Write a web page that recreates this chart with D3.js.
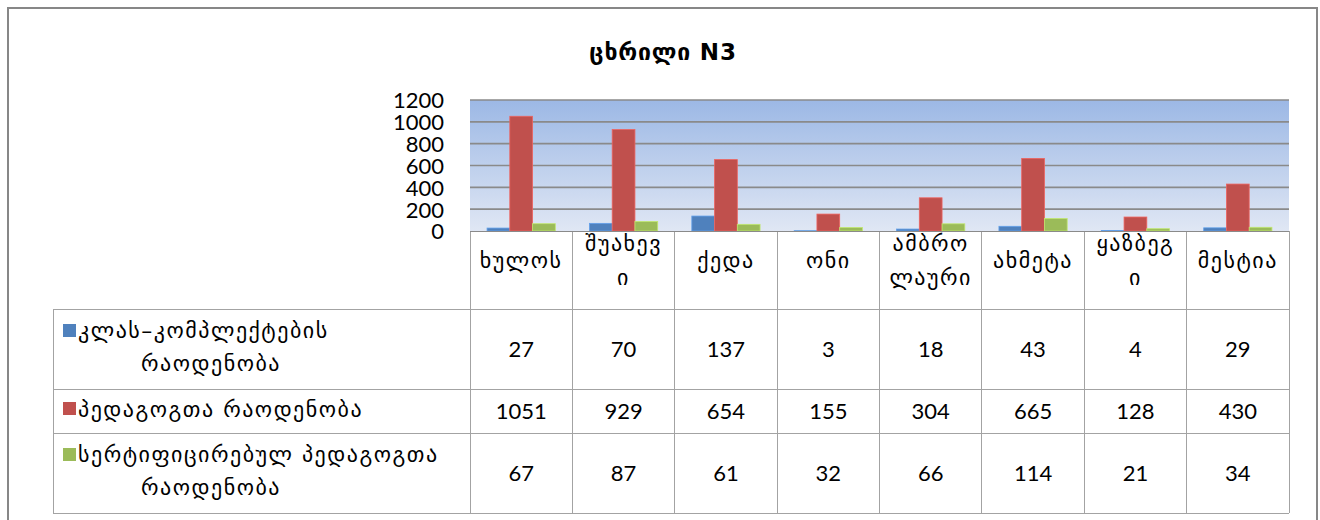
<!DOCTYPE html>
<html>
<head>
<meta charset="utf-8">
<script src="https://cdn.jsdelivr.net/npm/d3@7/dist/d3.min.js"></script>
<style>
  body { margin: 0; background: #fff; }
  .geo { font-family: "DejaVu Sans", sans-serif; fill: #000; letter-spacing: 1.5px; }
  .num { font-family: Lato, "Open Sans", sans-serif; fill: #000; }
</style>
</head>
<body>
<svg id="chart" width="1320" height="520"></svg>
<script>
'use strict';

const title = 'ცხრილი N3';
const categories = ['ხულოს', 'შუახევი', 'ქედა', 'ონი', 'ამბროლაური', 'ახმეტა', 'ყაზბეგი', 'მესტია'];
// how each name breaks inside its cell
const categoryLines = [['ხულოს'], ['შუახევ', 'ი'], ['ქედა'], ['ონი'], ['ამბრო', 'ლაური'], ['ახმეტა'], ['ყაზბეგ', 'ი'], ['მესტია']];
const seriesNames = ['კლას–კომპლექტების რაოდენობა', 'პედაგოგთა რაოდენობა', 'სერტიფიცირებულ პედაგოგთა რაოდენობა'];
const seriesLines = [['კლას–კომპლექტების', 'რაოდენობა'], ['პედაგოგთა რაოდენობა'], ['სერტიფიცირებულ პედაგოგთა', 'რაოდენობა']];
const classes = [27, 70, 137, 3, 18, 43, 4, 29];
const teachers = [1051, 929, 654, 155, 304, 665, 128, 430];
const certified = [67, 87, 61, 32, 66, 114, 21, 34];
const yTicks = [0, 200, 400, 600, 800, 1000, 1200];
const colors = ['#4f81bd', '#c0504d', '#9bbb59'];

const series = [classes, teachers, certified];

const svg = d3.select('#chart');

// outer frame
svg.append('rect').attr('x', 8).attr('y', 8).attr('width', 1309).attr('height', 540)
  .attr('fill', 'none').attr('stroke', '#878787').attr('stroke-width', 2);

svg.append('text').attr('class', 'geo').attr('x', 663).attr('y', 60)
  .attr('text-anchor', 'middle').style('font-size', '23px').style('font-weight', 'bold')
  .style('letter-spacing', '0.8px')
  .text(title);

const plotLeft = 470, plotRight = 1289, plotTop = 100, plotBottom = 231;
const headerBottom = 309;
const rowBottoms = [389, 433, 513];
const tableLeft = 53;

const x = d3.scaleBand().domain(categories).range([plotLeft, plotRight]);
const xs = d3.scaleBand().domain(d3.range(series.length)).range([0, x.bandwidth()]).paddingOuter(0.75);
const y = d3.scaleLinear().domain([0, 1200]).range([plotBottom, plotTop]);

// plot background
const defs = svg.append('defs');
const grad = defs.append('linearGradient').attr('id', 'plotbg').attr('x1', 0).attr('y1', 0).attr('x2', 0).attr('y2', 1);
grad.append('stop').attr('offset', 0).attr('stop-color', '#9cb8e5');
grad.append('stop').attr('offset', 1).attr('stop-color', '#e0e7f4');
svg.append('rect').attr('x', plotLeft).attr('y', plotTop).attr('width', plotRight - plotLeft).attr('height', plotBottom - plotTop)
  .attr('fill', 'url(#plotbg)');

// grid
svg.append('g').selectAll('line').data(yTicks.filter(d => d > 0)).join('line')
  .attr('x1', plotLeft).attr('x2', plotRight)
  .attr('y1', d => y(d)).attr('y2', d => y(d))
  .attr('stroke', '#8a8a8a').attr('stroke-width', 1.6);

// y axis labels
const yAxis = d3.axisLeft(y).tickValues(yTicks).tickFormat(d3.format('d')).tickSize(0).tickPadding(26);
const yg = svg.append('g').attr('transform', `translate(${plotLeft},0)`).call(yAxis);
yg.select('.domain').remove();
yg.selectAll('text').attr('class', 'num').style('font-size', '22px').attr('dy', '0.36em');

// bars
svg.append('g').selectAll('g').data(series).join('g')
  .attr('fill', (d, i) => colors[i])
  .attr('stroke', (d, i) => d3.color(colors[i]).brighter(0.6))
  .attr('stroke-width', 0.8)
  .selectAll('rect').data((d, i) => d.map((v, j) => ({ v, j, i }))).join('rect')
  .attr('x', d => x(categories[d.j]) + xs(d.i))
  .attr('width', xs.bandwidth())
  .attr('y', d => y(d.v))
  .attr('height', d => y(0) - y(d.v));

// table
const line = '#a3a3a3';
const tbl = svg.append('g').attr('stroke', line).attr('stroke-width', 1).attr('shape-rendering', 'crispEdges');
// category column boundaries
tbl.selectAll('line.v').data(categories.map(c => x(c)).concat([plotRight])).join('line')
  .attr('class', 'v')
  .attr('x1', d => d).attr('x2', d => d)
  .attr('y1', plotBottom).attr('y2', rowBottoms[2]);
tbl.append('line').attr('x1', tableLeft).attr('x2', tableLeft).attr('y1', headerBottom).attr('y2', rowBottoms[2]);
tbl.selectAll('line.h').data([headerBottom].concat(rowBottoms)).join('line')
  .attr('class', 'h')
  .attr('x1', tableLeft).attr('x2', plotRight)
  .attr('y1', d => d).attr('y2', d => d);
tbl.append('line').attr('x1', plotLeft).attr('x2', plotRight).attr('y1', plotBottom).attr('y2', plotBottom).attr('stroke', '#8a8a8a');

// category headers
const lh = 34;
svg.append('g').selectAll('text').data(categories).join('text')
  .attr('class', 'geo').style('font-size', '22px')
  .attr('text-anchor', 'middle')
  .attr('x', d => x(d) + x.bandwidth() / 2)
  .attr('y', (d, i) => (plotBottom + headerBottom) / 2 - 2 - (categoryLines[i].length - 1) * lh / 2)
  .attr('dy', '0.35em')
  .selectAll('tspan').data((d, i) => categoryLines[i]).join('tspan')
  .attr('x', function () { return this.parentNode.getAttribute('x'); })
  .attr('dy', (d, k) => k ? lh : 0)
  .text(d => d);

// row labels with legend keys
const rowTops = [headerBottom].concat(rowBottoms.slice(0, 2));
const rows = svg.append('g').selectAll('g').data(seriesNames).join('g');
rows.append('rect')
  .attr('x', 63).attr('width', 13).attr('height', 13)
  .attr('y', (d, i) => (rowTops[i] + rowBottoms[i]) / 2 - (seriesLines[i].length - 1) * 16 - 9)
  .attr('fill', (d, i) => colors[i]);
rows.each(function (d, i) {
  const cy = (rowTops[i] + rowBottoms[i]) / 2;
  const n = seriesLines[i].length;
  seriesLines[i].forEach((t, k) => {
    d3.select(this).append('text').attr('class', 'geo').style('font-size', '22px')
      .attr('x', k === 0 ? 78 : 211)
      .attr('text-anchor', k === 0 ? 'start' : 'middle')
      .attr('y', cy - 2 + (k - (n - 1) / 2) * 33)
      .attr('dy', '0.35em')
      .text(t);
  });
});

// values
series.forEach((vals, i) => {
  svg.append('g').selectAll('text').data(vals).join('text')
    .attr('class', 'num').style('font-size', '22px')
    .attr('text-anchor', 'middle')
    .attr('x', (d, j) => x(categories[j]) + x.bandwidth() / 2)
    .attr('y', (rowTops[i] + rowBottoms[i]) / 2)
    .attr('dy', '0.36em')
    .text(d => d);
});
</script>
</body>
</html>
